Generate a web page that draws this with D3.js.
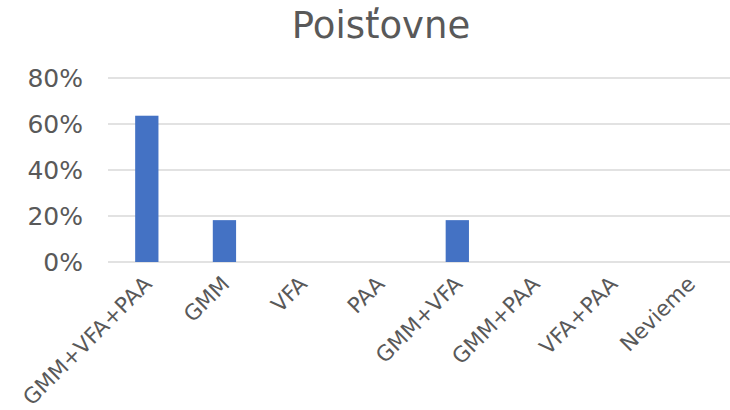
<!DOCTYPE html>
<html><head><meta charset="utf-8">
<script src="https://cdn.jsdelivr.net/npm/d3@7"></script>
<style>body{margin:0;background:#fff}svg{display:block}</style>
</head><body>
<script>
const title = "Poisťovne";
const categories = ["GMM+VFA+PAA","GMM","VFA","PAA","GMM+VFA","GMM+PAA","VFA+PAA","Nevieme"];
const values = [0.636, 0.182, 0, 0, 0.182, 0, 0, 0];
const yTicks = [0, 0.2, 0.4, 0.6, 0.8];

const W = 730, H = 410;
const svg = d3.select("body").append("svg").attr("width", W).attr("height", H);
const font = "'DejaVu Sans', Verdana, sans-serif";
const textColor = "#595959";

const x = d3.scaleBand().domain(categories).range([108, 729]).paddingInner(0.7).paddingOuter(0.35);
const y = d3.scaleLinear().domain([0, 0.8]).range([262, 78]);

svg.append("text").attr("x", 381).attr("y", 38).attr("text-anchor", "middle")
  .attr("font-family", font).attr("font-size", 37).attr("fill", textColor).text(title);

const grid = svg.append("g");
grid.selectAll("line").data(yTicks).join("line")
  .attr("x1", 108).attr("x2", 730)
  .attr("y1", d => y(d)).attr("y2", d => y(d))
  .attr("stroke", "#d9d9d9").attr("stroke-width", 1.5);

svg.append("g").selectAll("text").data(yTicks).join("text")
  .attr("x", 83).attr("y", d => y(d)).attr("dy", "0.35em").attr("text-anchor", "end")
  .attr("font-family", font).attr("font-size", 25).attr("fill", textColor)
  .text(d => d3.format(".0%")(d));

svg.append("g").selectAll("rect").data(values).join("rect")
  .attr("x", (d, i) => x(categories[i]))
  .attr("width", x.bandwidth())
  .attr("y", d => y(d))
  .attr("height", d => y(0) - y(d))
  .attr("fill", "#4472c4");

svg.append("g").selectAll("text").data(categories).join("text")
  .attr("transform", d => `translate(${x(d) + x.bandwidth()/2 + 1},${280}) rotate(-45)`)
  .attr("text-anchor", "end").attr("dy", "0.35em")
  .attr("font-family", font).attr("font-size", 21.5).attr("fill", textColor)
  .text(d => d);
</script>
</body></html>
